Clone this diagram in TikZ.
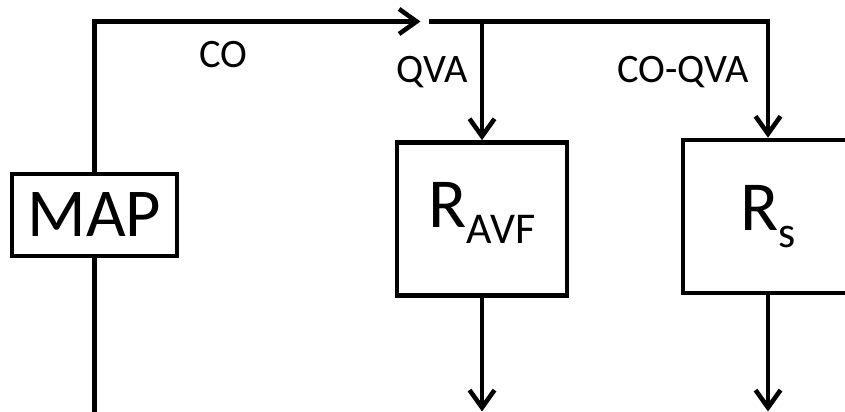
\documentclass[tikz,border=0pt]{standalone}
\usepackage{fontspec}
\setmainfont{Carlito}
\usetikzlibrary{positioning,arrows.meta}
\tikzset{
  flowarrow/.style={-{Straight Barb[length=3.5mm, width=5mm]}, line width=2.6pt},
  flowline/.style={line width=2.6pt},
  block/.style={draw, line width=2.6pt, minimum width=3.4cm, minimum height=3.06cm, inner sep=0pt, align=center, font=\fontsize{40}{40}\selectfont},
  mapbox/.style={draw, line width=2.6pt, minimum width=3.3cm, minimum height=1.64cm, inner sep=0pt, font=\fontsize{39}{39}\selectfont},
  flowlabel/.style={font=\fontsize{23}{23}\selectfont, inner sep=0pt}
}
\newcommand{\lowsub}[2]{{\fontsize{25}{25}\selectfont\raisebox{-#1}{#2}}}

\begin{document}
\begin{tikzpicture}
  \clip (0,0) rectangle (16.9,8.24);
  \node[mapbox] (map) at (1.89,3.94) {MAP};
  \node[block, text depth=16pt] (ravf) at (9.64,3.86) {R\lowsub{9pt}{AVF}};
  \node[block] (rs) at (15.36,3.91) {R\lowsub{10pt}{s}};
  \coordinate (cotip) at (8.41,7.81);
  \coordinate (split) at (8.58,7.81);
  \coordinate (qvajoin) at (9.64,7.81);
  \coordinate (mapout) at (1.89,0);
  \coordinate (ravfout) at (9.64,0.01);
  \coordinate (rsout) at (15.36,0.01);
  \node[flowlabel] (co) at (4.46,7.15) {CO};
  \node[flowlabel] (qva) at (8.64,6.79) {QVA};
  \node[flowlabel] (coqva) at (13.66,6.79) {CO-QVA};
  \draw[flowarrow] (map.north) |- (cotip);
  \draw[flowarrow] (split) -| (rs.north);
  \draw[flowarrow] (qvajoin) -- (ravf.north);
  \draw[flowline] (map.south) -- (mapout);
  \draw[flowarrow] (ravf.south) -- (ravfout);
  \draw[flowarrow] (rs.south) -- (rsout);
\end{tikzpicture}
\end{document}
